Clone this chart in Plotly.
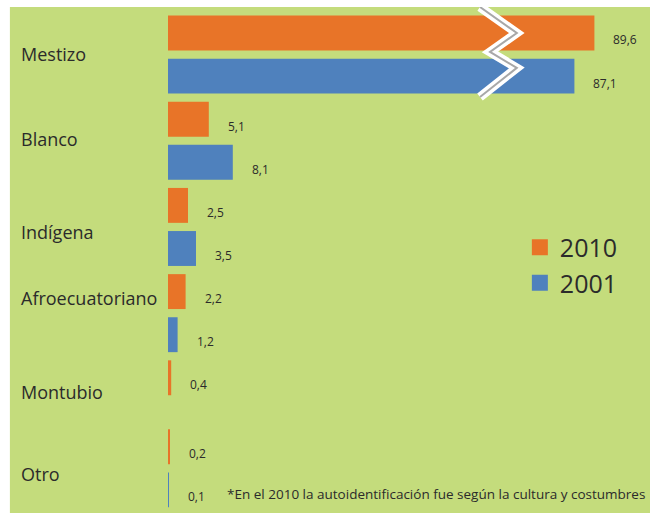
import plotly.graph_objects as go

# Datos (porcentaje de autoidentificación)
categorias = ["Mestizo", "Blanco", "Indígena", "Afroecuatoriano", "Montubio", "Otro"]
censo_2010 = [89.6, 5.1, 2.5, 2.2, 0.4, 0.2]
censo_2001 = [87.1, 8.1, 3.5, 1.2, None, 0.1]
nota = "*En el 2010 la autoidentificación fue según la cultura y costumbres"

# Disposición: fila de inicio de cada grupo y desplazamiento de su etiqueta
fila_grupo = [0, 2, 4, 6, 8, 9.6]
fila_etiqueta = [0.49, 0.46, 0.62, 0.15, 0.33, 0.63]

VERDE = "#c4dc7c"
NARANJA = "#e87428"
AZUL = "#4f81bd"
TEXTO = "#2b2b2b"
FUENTE = "Open Sans"

CORTE = 42.0      # valor a partir del cual el eje se "rompe"
SALTO = 36.3      # cantidad que se omite en el tramo roto


def mostrar(v):
    if v is None:
        return None
    return v - SALTO if v > CORTE else v


def fmt(v):
    return f"{v:.1f}".replace(".", ",")


fig = go.Figure()

series = [("2010", censo_2010, NARANJA, 0), ("2001", censo_2001, AZUL, 1)]
for nombre, valores, color, d in series:
    fig.add_trace(go.Bar(
        name=nombre,
        orientation="h",
        x=[mostrar(v) for v in valores],
        y=[f + d for f in fila_grupo],
        width=0.81,
        marker=dict(color=color, line=dict(width=0)),
        customdata=valores,
        hovertemplate="%{customdata}<extra>" + nombre + "</extra>",
        showlegend=False,
    ))
    # entrada de leyenda con cuadrado grande
    fig.add_trace(go.Scatter(
        name=nombre, x=[None], y=[None], mode="markers",
        marker=dict(symbol="square", size=16, color=color),
        showlegend=True, hoverinfo="skip",
    ))
    for v, f in zip(valores, fila_grupo):
        if v is None:
            continue
        fig.add_annotation(
            x=mostrar(v), y=f + d, text=fmt(v), showarrow=False,
            xanchor="left", xshift=17, yshift=-7,
            font=dict(family=FUENTE, size=12, color=TEXTO),
        )

# etiquetas de categoría alineadas a la izquierda
for cat, f, off in zip(categorias, fila_grupo, fila_etiqueta):
    fig.add_annotation(
        x=-0.31, xref="paper", y=f + off, yref="y", text=cat,
        showarrow=False, xanchor="left",
        font=dict(family=FUENTE, size=18, color=TEXTO),
    )

# símbolo de eje roto (zigzag) sobre las barras de Mestizo
zx = [39.0, 43.6, 40.25, 43.6, 39.0]
zy = [-0.603, 0.0, 0.44, 0.81, 1.485]
camino = "M " + " L ".join(f"{a},{b}" for a, b in zip(zx, zy))
fig.add_shape(type="path", path=camino, xref="x", yref="y",
              line=dict(color="white", width=9))
fig.add_shape(type="path", path=camino, xref="x", yref="y",
              line=dict(color="#a8a8a8", width=2))

# márgenes blancos (arriba e izquierda); el resto del papel es verde
fig.add_shape(type="rect", xref="paper", yref="paper",
              x0=-0.36, x1=1.05, y0=1.0, y1=1.03,
              fillcolor="white", line=dict(width=0), layer="below")
fig.add_shape(type="rect", xref="paper", yref="paper",
              x0=-0.36, x1=-0.328, y0=-0.05, y1=1.03,
              fillcolor="white", line=dict(width=0), layer="below")

fig.add_annotation(
    x=1.0, xref="paper", xanchor="right", xshift=-3,
    y=10.6, yref="y", yshift=-4, text=nota, showarrow=False,
    font=dict(family=FUENTE, size=13.5, color=TEXTO),
)

fig.update_layout(
    width=650, height=513,
    margin=dict(l=168, r=0, t=7, b=0),
    paper_bgcolor=VERDE,
    plot_bgcolor="rgba(0,0,0,0)",
    barmode="overlay",
    showlegend=True,
    legend=dict(
        x=0.73, y=0.57, xanchor="left", yanchor="top",
        bgcolor="rgba(0,0,0,0)", traceorder="normal",
        font=dict(family=FUENTE, size=25, color=TEXTO),
        itemsizing="trace", tracegroupgap=0, itemwidth=30,
    ),
    xaxis=dict(range=[0, 60.25], visible=False, fixedrange=True),
    yaxis=dict(range=[11.137, -0.603], visible=False, fixedrange=True),
)

fig.write_html(
    "out.html",
    config={"displayModeBar": False},
    post_script="document.body.style.margin='0';"
                "document.body.style.overflow='hidden';"
                "document.documentElement.style.overflow='hidden';",
)
